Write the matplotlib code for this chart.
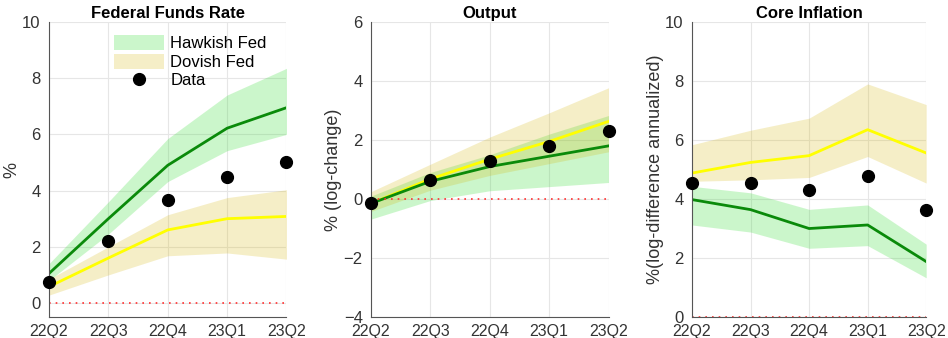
import matplotlib
matplotlib.use('Agg')
import matplotlib.pyplot as plt
import numpy as np

plt.rcParams['font.family'] = ['Liberation Sans', 'DejaVu Sans']

quarters = ['22Q2', '22Q3', '22Q4', '23Q1', '23Q2']

# Federal funds rate
ffr_hawk = [1.05, 3.0, 4.9, 6.22, 6.95]
ffr_hawk_lo = [0.8, 2.45, 4.32, 5.42, 6.0]
ffr_hawk_hi = [1.4, 3.6, 5.85, 7.4, 8.35]
ffr_dove = [0.58, 1.6, 2.6, 3.0, 3.08]
ffr_dove_lo = [0.28, 1.0, 1.68, 1.78, 1.56]
ffr_dove_hi = [0.85, 2.0, 3.14, 3.75, 4.03]
ffr_data = [0.75, 2.2, 3.65, 4.5, 5.0]

# Output
out_hawk = [-0.15, 0.6, 1.1, 1.45, 1.8]
out_hawk_lo = [-0.68, -0.05, 0.28, 0.42, 0.56]
out_hawk_hi = [0.1, 0.9, 1.5, 2.2, 2.83]
out_dove = [-0.15, 0.68, 1.35, 1.95, 2.63]
out_dove_lo = [-0.42, 0.3, 0.8, 1.2, 1.6]
out_dove_hi = [0.25, 1.18, 2.1, 2.92, 3.77]
out_data = [-0.15, 0.65, 1.3, 1.8, 2.3]

# Core inflation
inf_hawk = [3.98, 3.64, 3.0, 3.12, 1.88]
inf_hawk_lo = [3.12, 2.88, 2.33, 2.42, 1.33]
inf_hawk_hi = [4.43, 4.21, 3.65, 3.8, 2.47]
inf_dove = [4.88, 5.24, 5.47, 6.35, 5.56]
inf_dove_lo = [4.6, 4.65, 4.73, 5.44, 4.54]
inf_dove_hi = [5.84, 6.33, 6.74, 7.9, 7.2]
inf_data = [4.55, 4.55, 4.3, 4.77, 3.62]

panels = [
    ('Federal Funds Rate', '%', (-0.5, 10), [0, 2, 4, 6, 8, 10],
     ffr_hawk, ffr_hawk_lo, ffr_hawk_hi, ffr_dove, ffr_dove_lo, ffr_dove_hi, ffr_data),
    ('Output', '% (log-change)', (-4, 6), [-4, -2, 0, 2, 4, 6],
     out_hawk, out_hawk_lo, out_hawk_hi, out_dove, out_dove_lo, out_dove_hi, out_data),
    ('Core Inflation', '%(log-difference annualized)', (0, 10), [0, 2, 4, 6, 8, 10],
     inf_hawk, inf_hawk_lo, inf_hawk_hi, inf_dove, inf_dove_lo, inf_dove_hi, inf_data),
]

fig = plt.figure(figsize=(9.48, 3.38), dpi=100)
boxes = [[0.0517, 0.2505], [0.3914, 0.2505], [0.730, 0.247]]
x = np.arange(len(quarters))

for i, p in enumerate(panels):
    title, ylab, ylim, yt, hw, hwlo, hwhi, dv, dvlo, dvhi, dat = p
    ax = fig.add_axes([boxes[i][0], 0.062, boxes[i][1], 0.873])
    hb = ax.fill_between(x, hwlo, hwhi, color='#33dd33', alpha=0.25, lw=0, label='Hawkish Fed')
    db = ax.fill_between(x, dvlo, dvhi, color='#d4b400', alpha=0.22, lw=0, label='Dovish Fed')
    ax.plot(x, dv, color='#ffff00', lw=2)
    ax.plot(x, hw, color='#0a8a0a', lw=2)
    ax.axhline(0, color='#ff3030', ls=(0, (1, 3)), lw=1.2)
    dd, = ax.plot(x, dat, 'o', color='black', ms=8.5, ls='none', label='Data', clip_on=False, zorder=5)

    ax.set_xlim(0, 4)
    ax.set_ylim(*ylim)
    ax.set_xticks(x)
    ax.set_xticklabels(quarters)
    ax.set_yticks(yt)
    ax.grid(True, color='#e6e6e6', lw=0.8)
    ax.set_axisbelow(True)
    for s in ['top', 'right']:
        ax.spines[s].set_visible(False)
    for s in ['left', 'bottom']:
        ax.spines[s].set_color('#555555')
        ax.spines[s].set_linewidth(0.8)
    ax.tick_params(labelsize=12, colors='#333333', length=0)
    ax.tick_params(axis='x', labelsize=11.5, pad=5)
    ax.tick_params(axis='y', pad=6)
    ax.set_title(title, fontsize=12, fontweight='bold', pad=3)
    ax.set_ylabel(ylab, fontsize=13, color='#333333', labelpad=1)

    if i == 0:
        ax.legend(handles=[hb, db, dd], loc='upper left', bbox_to_anchor=(0.23, 0.99),
                  frameon=False, fontsize=12, handlelength=3.0, handleheight=1.0,
                  labelspacing=0.15, handletextpad=0.4, borderaxespad=0.2)

fig.savefig('out.png', dpi=100)
